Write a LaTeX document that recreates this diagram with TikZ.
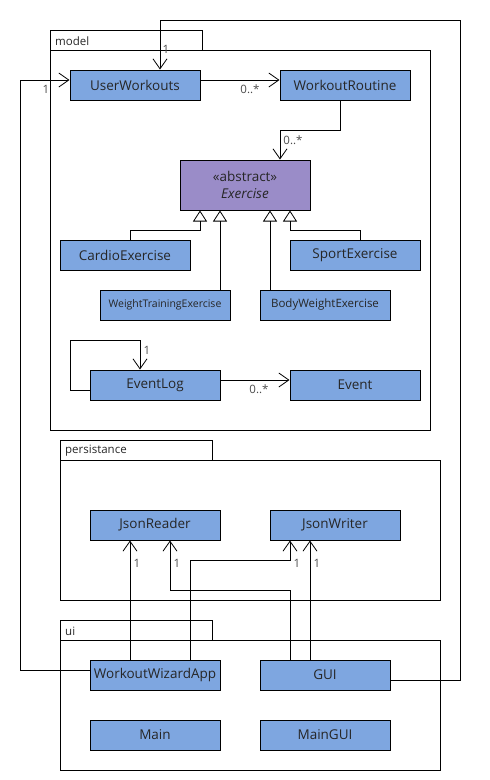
\documentclass[tikz,border=0pt]{standalone}
\usepackage{fontspec}
\setmainfont{Open Sans}
\usetikzlibrary{arrows.meta}
\pgfdeclarelayer{nodelayer}
\pgfdeclarelayer{edgelayer}
\pgfsetlayers{nodelayer,edgelayer,main}
\definecolor{classblue}{HTML}{7EA6E0}
\definecolor{classpurple}{HTML}{9A8CC8}
\tikzset{
  umlclass/.style={draw, fill=classblue, line width=1pt, minimum width=130pt, minimum height=30pt, inner sep=0pt, text=black!85, font=\fontsize{13.5}{17}\selectfont},
  assoc/.style={-{Straight Barb[length=10pt,width=14pt]}, line width=0.8pt},
  inherit/.style={-{Triangle[open,length=11pt,width=14pt]}, line width=0.8pt},
  mult/.style={inner sep=0pt, text=black!70, font=\fontsize{11.5}{13}\selectfont},
  pkgname/.style={anchor=west, inner sep=0pt, text=black!85, font=\fontsize{11.5}{13}\selectfont},
  pkg/.style={line width=0.8pt}
}

\begin{document}
\begin{tikzpicture}[x=1pt, y=-1pt]
  \useasboundingbox (0, 0) rectangle (490, 780);
  \begin{pgfonlayer}{nodelayer}
    % packages
    \draw [pkg] (50, 30) rectangle (202, 50);
    \draw [pkg] (50, 50) rectangle (430, 430);
    \draw [pkg] (60, 440) rectangle (212, 460);
    \draw [pkg] (60, 460) rectangle (440, 600);
    \draw [pkg] (60, 620) rectangle (212, 640);
    \draw [pkg] (60, 640) rectangle (440, 770);
    \node [pkgname] (modelname) at (55, 41) {model};
    \node [pkgname] (persistancename) at (65, 451) {persistance};
    \node [pkgname] (uiname) at (65, 631) {ui};
    % model
    \node [umlclass] (userworkouts) at (135, 85) {UserWorkouts};
    \node [umlclass] (workoutroutine) at (345, 85) {WorkoutRoutine};
    \node [umlclass, fill=classpurple, minimum height=50pt, align=center] (exercise) at (245, 185) {«abstract»\\\textit{Exercise}};
    \node [umlclass] (cardio) at (125, 255) {CardioExercise};
    \node [umlclass] (sport) at (355, 255) {SportExercise};
    \node [umlclass, font=\fontsize{10.5}{12}\selectfont] (weighttraining) at (165, 305) {WeightTrainingExercise};
    \node [umlclass, font=\fontsize{11.5}{13}\selectfont] (bodyweight) at (325, 305) {BodyWeightExercise};
    \node [umlclass] (eventlog) at (155, 385) {EventLog};
    \node [umlclass] (event) at (355, 385) {Event};
    % persistance
    \node [umlclass] (jsonreader) at (155, 525) {JsonReader};
    \node [umlclass] (jsonwriter) at (335, 525) {JsonWriter};
    % ui
    \node [umlclass] (wwa) at (155, 675) {WorkoutWizardApp};
    \node [umlclass] (gui) at (325, 675) {GUI};
    \node [umlclass] (main) at (155, 735) {Main};
    \node [umlclass] (maingui) at (325, 735) {MainGUI};
    % multiplicities
    \node [mult] (m1) at (166, 49) {1};
    \node [mult] (m2) at (46, 89) {1};
    \node [mult] (m3) at (250, 89) {0..*};
    \node [mult] (m4) at (293, 140) {0..*};
    \node [mult] (m5) at (147, 350) {1};
    \node [mult] (m6) at (259, 389) {0..*};
    \node [mult] (m7) at (137, 563) {1};
    \node [mult] (m8) at (177, 563) {1};
    \node [mult] (m9) at (297, 563) {1};
    \node [mult] (m10) at (317, 563) {1};
  \end{pgfonlayer}
  \begin{pgfonlayer}{edgelayer}
    \draw [assoc] ([yshift=-5pt]gui.east) -- (460, 680) -- (460, 20) -- (160, 20) -- ([xshift=25pt]userworkouts.north);
    \draw [assoc] ([yshift=5pt]wwa.west) -- (20, 670) -- (20, 80) -- ([yshift=5pt]userworkouts.west);
    \draw [assoc] ([yshift=5pt]userworkouts.east) to ([yshift=5pt]workoutroutine.west);
    \draw [assoc] ([xshift=-5pt]workoutroutine.south) -- (340, 130) -- (280, 130) -- ([xshift=35pt]exercise.north);
    \draw [inherit] ([xshift=5pt]cardio.north) -- (130, 230) -- (200, 230) -- ([xshift=-45pt]exercise.south);
    \draw [inherit] ([xshift=55pt]weighttraining.north) to ([xshift=-25pt]exercise.south);
    \draw [inherit] ([xshift=-55pt]bodyweight.north) to ([xshift=25pt]exercise.south);
    \draw [inherit] ([xshift=5pt]sport.north) -- (360, 230) -- (290, 230) -- ([xshift=45pt]exercise.south);
    \draw [assoc] ([yshift=5pt]eventlog.east) to ([yshift=5pt]event.west);
    \draw [assoc] ([yshift=-5pt]eventlog.west) -- (70, 390) -- (70, 340) -- (140, 340) -- ([xshift=-15pt]eventlog.north);
    \draw [assoc] ([xshift=-25pt]wwa.north) to ([xshift=-25pt]jsonreader.south);
    \draw [assoc] ([xshift=35pt]wwa.north) -- (190, 560) -- (290, 560) -- ([xshift=-45pt]jsonwriter.south);
    \draw [assoc] ([xshift=-35pt]gui.north) -- (290, 590) -- (170, 590) -- ([xshift=15pt]jsonreader.south);
    \draw [assoc] ([xshift=-15pt]gui.north) to ([xshift=-25pt]jsonwriter.south);
  \end{pgfonlayer}
\end{tikzpicture}
\end{document}
